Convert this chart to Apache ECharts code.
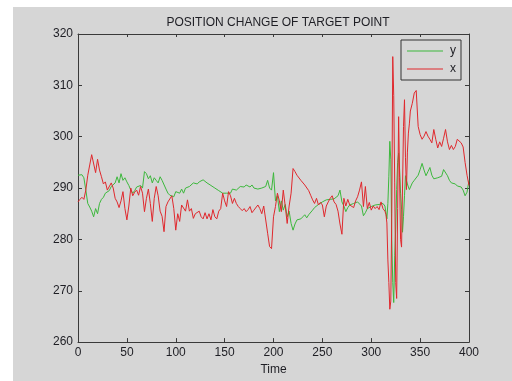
<!DOCTYPE html>
<html>
<head>
<meta charset="utf-8">
<script src="https://cdn.jsdelivr.net/npm/echarts@6/dist/echarts.min.js"></script>
<style>
  html, body { margin: 0; padding: 0; background: #ffffff; }
  #chart { position: absolute; left: 13px; top: 7px; width: 499px; height: 374px; }
</style>
</head>
<body>
<div id="chart"></div>
<script>
var titleText = 'POSITION CHANGE OF TARGET POINT';
var xName = 'Time';
var seriesNames = ['y', 'x'];

// sample times (denser through the spike around t=320)
var times = [
    0, 2, 4, 6, 8, 10, 12, 14, 16, 18, 20, 22, 24, 26, 28, 30, 32, 34, 36, 38,
    40, 42, 44, 46, 48, 50, 52, 54, 56, 58, 60, 62, 64, 66, 68, 70, 72, 74, 76, 78,
    80, 82, 84, 86, 88, 90, 92, 94, 96, 98, 100, 102, 104, 106, 108, 110, 112, 114, 116, 118,
    120, 122, 124, 126, 128, 130, 132, 134, 136, 138, 140, 142, 144, 146, 148, 150, 152, 154, 156, 158,
    160, 162, 164, 166, 168, 170, 172, 174, 176, 178, 180, 182, 184, 186, 188, 190, 192, 194, 196, 198,
    200, 202, 204, 206, 208, 210, 212, 214, 216, 218, 220, 222, 224, 226, 228, 230, 232, 234, 236, 238,
    240, 242, 244, 246, 248, 250, 252, 254, 256, 258, 260, 262, 264, 266, 268, 270, 272, 274, 276, 278,
    280, 282, 284, 286, 288, 290, 292, 294, 296, 298, 300, 302, 304, 306, 308, 310, 312,
    313, 314, 315, 316, 317, 318, 319, 320, 321, 322, 323, 324, 325, 326, 327, 328, 329, 330,
    331, 332, 333, 334, 335, 336, 337, 338, 339, 340,
    342, 344, 346, 348, 350, 352, 354, 356, 358, 360, 362, 364, 366, 368, 370, 372, 374, 376, 378, 380,
    382, 384, 386, 388, 390, 392, 394, 396, 398, 400
];

var yValues = [
    292.5, 292.3, 292.6, 292.0, 289.6, 287.0, 286.3, 285.5, 284.4, 286.0, 285.0, 287.0, 287.8, 288.2, 289.0, 289.3, 289.5, 290.3, 290.5, 291.0,
    292.2, 291.0, 292.8, 291.5, 292.0, 291.2, 290.5, 289.6, 289.0, 289.5, 290.2, 290.5, 290.5, 290.0, 293.2, 292.8, 291.8, 292.4, 291.0, 292.0,
    291.5, 291.0, 292.2, 291.5, 291.2, 289.8, 289.0, 288.6, 288.6, 288.3, 289.3, 289.6, 289.0, 289.8, 289.0, 290.0, 290.0, 290.3, 290.5, 291.0,
    291.0, 290.8, 291.2, 291.3, 291.6, 291.4, 291.0, 290.8, 290.5, 290.3, 290.0, 289.8, 289.5, 289.3, 289.0, 289.2, 289.0, 289.0, 289.0, 289.8,
    290.0, 289.6, 289.8, 290.3, 290.6, 290.2, 290.6, 290.4, 290.2, 290.6, 290.0, 290.3, 289.8, 289.6, 290.0, 290.3, 290.3, 291.5, 290.0, 289.6,
    293.0, 287.5, 288.5, 285.4, 287.5, 285.7, 286.8, 284.4, 285.5, 283.1, 281.8, 283.0, 283.8, 283.5, 284.0, 284.4, 284.8, 284.2, 284.8, 285.1,
    285.7, 286.2, 286.0, 286.8, 287.0, 287.3, 287.0, 287.7, 287.4, 287.8, 287.5, 287.9, 287.7, 288.5, 289.6, 287.3, 286.5, 285.4, 286.2, 286.7,
    286.5, 287.0, 286.8, 287.3, 287.0, 286.5, 284.6, 285.2, 286.0, 286.2, 286.4, 286.5, 286.7, 286.4, 286.8, 287.1, 287.0,
    287.0, 286.5, 286.5, 284.0, 287.0, 292.3, 299.1, 295.5, 280.0, 271.6, 267.7, 276.8, 282.0, 289.7, 295.0, 296.8, 293.6, 289.0,
    285.9, 281.4, 284.5, 288.5, 292.4, 291.5, 290.8, 290.2, 289.7, 289.4,
    291.0, 291.5, 291.8, 292.5, 293.6, 294.8, 293.5, 292.4, 293.2, 294.0, 292.5, 291.8, 291.5, 292.0, 291.8, 292.3, 293.6, 293.4, 292.4, 291.5,
    291.0, 291.2, 290.8, 290.4, 290.3, 290.2, 289.6, 288.5, 289.2, 291.5
];

var xValues = [
    287.3, 287.8, 288.2, 287.8, 289.6, 292.5, 294.5, 296.5, 296.2, 293.0, 295.6, 293.5, 292.2, 290.8, 291.2, 289.6, 289.3, 291.0, 290.0, 288.0,
    287.3, 286.2, 287.5, 289.3, 286.0, 283.8, 286.5, 290.0, 288.5, 289.2, 289.6, 288.6, 290.3, 289.0, 285.4, 288.0, 289.8, 287.0, 283.5, 288.0,
    290.3, 288.5, 285.5, 284.5, 281.5, 286.4, 287.3, 287.5, 288.5, 286.0, 281.8, 285.0, 283.5, 286.7, 287.0, 285.5, 287.7, 285.5, 286.0, 284.1,
    285.0, 284.8, 285.5, 284.4, 284.0, 285.2, 284.0, 285.0, 283.8, 285.8, 284.4, 284.0, 285.5, 286.0, 289.0, 287.5, 286.4, 289.3, 288.5, 287.0,
    288.0, 287.0, 286.4, 286.0, 285.6, 286.0, 285.4, 285.8, 286.4, 285.2, 285.7, 286.0, 286.7, 286.0, 285.0, 286.5, 286.7, 281.2, 278.6, 278.2,
    284.4, 286.4, 289.0, 287.5, 285.4, 289.6, 286.5, 283.1, 286.5, 289.0, 293.8, 293.2, 292.5, 292.2, 291.5, 291.2, 290.6, 290.8, 289.5, 288.6,
    287.7, 287.0, 288.0, 286.7, 287.2, 286.7, 284.4, 286.5, 287.3, 288.0, 288.5, 287.3, 286.8, 285.5, 283.0, 281.0, 288.0, 286.5, 287.8, 286.7,
    287.0, 286.2, 287.5, 288.3, 289.6, 291.2, 286.4, 290.3, 286.0, 287.2, 285.7, 286.5, 286.0, 286.4, 285.8, 287.3, 286.0,
    286.0, 285.5, 284.9, 283.2, 276.0, 271.6, 266.4, 268.0, 285.0, 315.6, 308.0, 291.0, 271.6, 268.5, 286.0, 303.9, 292.0, 280.0,
    278.5, 290.0, 302.0, 307.2, 296.0, 289.7, 297.0, 300.7, 302.5, 305.0,
    306.5, 308.5, 309.0, 302.0, 300.4, 299.5, 300.1, 301.0, 300.1, 299.5, 298.8, 301.4, 299.5, 297.8, 299.0, 298.1, 299.7, 301.4, 299.0, 297.5,
    298.3, 297.5, 298.1, 299.5, 299.8, 298.8, 298.0, 295.0, 292.5, 290.5
];

var xTicks = { min: 0, max: 400, interval: 50 };
var yTicks = { min: 260, max: 320, interval: 10 };

var myChart = echarts.init(document.getElementById('chart'), null, { renderer: 'canvas' });

var font = 'Liberation Sans, Arial, sans-serif';
var ink = '#1e1e24';

var pairs = function(vals){
    return times.map(function(t, i){ return [t, vals[i]]; });
};

var xAxis = [{
    type: 'value',
    position: 'bottom',
    min: xTicks.min, max: xTicks.max, interval: xTicks.interval,
    name: xName,
    nameLocation: 'middle',
    nameGap: 18,
    nameTextStyle: { color: ink, fontSize: 12, fontFamily: font },
    axisLine: { show: true, onZero: false, lineStyle: { color: '#3a3a3a', width: 1 } },
    axisTick: { show: true, inside: true, length: 4, lineStyle: { color: '#3a3a3a' } },
    axisLabel: { color: ink, fontSize: 12, fontFamily: font, margin: 5 },
    splitLine: { show: false }
}, {
    type: 'value',
    position: 'top',
    min: xTicks.min, max: xTicks.max, interval: xTicks.interval,
    axisLine: { show: true, onZero: false, lineStyle: { color: '#3a3a3a', width: 1 } },
    axisTick: { show: true, inside: true, length: 3, lineStyle: { color: '#3a3a3a' } },
    axisLabel: { show: false },
    splitLine: { show: false }
}];

var yAxis = [{
    type: 'value',
    position: 'left',
    min: yTicks.min, max: yTicks.max, interval: yTicks.interval,
    axisLine: { show: true, onZero: false, lineStyle: { color: '#3a3a3a', width: 1 } },
    axisTick: { show: true, inside: true, length: 4, lineStyle: { color: '#3a3a3a' } },
    axisLabel: { color: ink, fontSize: 12, fontFamily: font, margin: 5 },
    splitLine: { show: false }
}, {
    type: 'value',
    position: 'right',
    min: yTicks.min, max: yTicks.max, interval: yTicks.interval,
    axisLine: { show: true, onZero: false, lineStyle: { color: '#3a3a3a', width: 1 } },
    axisTick: { show: true, inside: true, length: 4, lineStyle: { color: '#3a3a3a' } },
    axisLabel: { show: false },
    splitLine: { show: false }
}];

var series = [{
    name: seriesNames[0],
    type: 'line',
    showSymbol: false,
    data: pairs(yValues),
    lineStyle: { color: '#3cb83c', width: 1 },
    itemStyle: { color: '#3cb83c' }
}, {
    name: seriesNames[1],
    type: 'line',
    showSymbol: false,
    data: pairs(xValues),
    lineStyle: { color: '#e0282d', width: 1 },
    itemStyle: { color: '#e0282d' }
}];

var option = {
    animation: false,
    backgroundColor: '#d6d6d6',
    textStyle: { fontFamily: font },
    title: {
        text: titleText,
        left: 260,
        top: 5,
        textAlign: 'center',
        textStyle: { color: ink, fontSize: 12, fontWeight: 'normal', fontFamily: font }
    },
    legend: {
        orient: 'vertical',
        left: 388,
        top: 33,
        icon: 'rect',
        itemWidth: 36,
        itemHeight: 1,
        itemGap: 6,
        padding: [5, 5, 5, 6],
        borderColor: '#333',
        borderWidth: 1,
        textStyle: { color: ink, fontSize: 12, fontFamily: font, padding: [0, 0, 0, 2] },
        data: seriesNames
    },
    grid: {
        left: 65,
        right: 43,
        top: 27,
        bottom: 38,
        containLabel: false
    },
    xAxis: xAxis,
    yAxis: yAxis,
    series: series
};

myChart.setOption(option);
</script>
</body>
</html>
